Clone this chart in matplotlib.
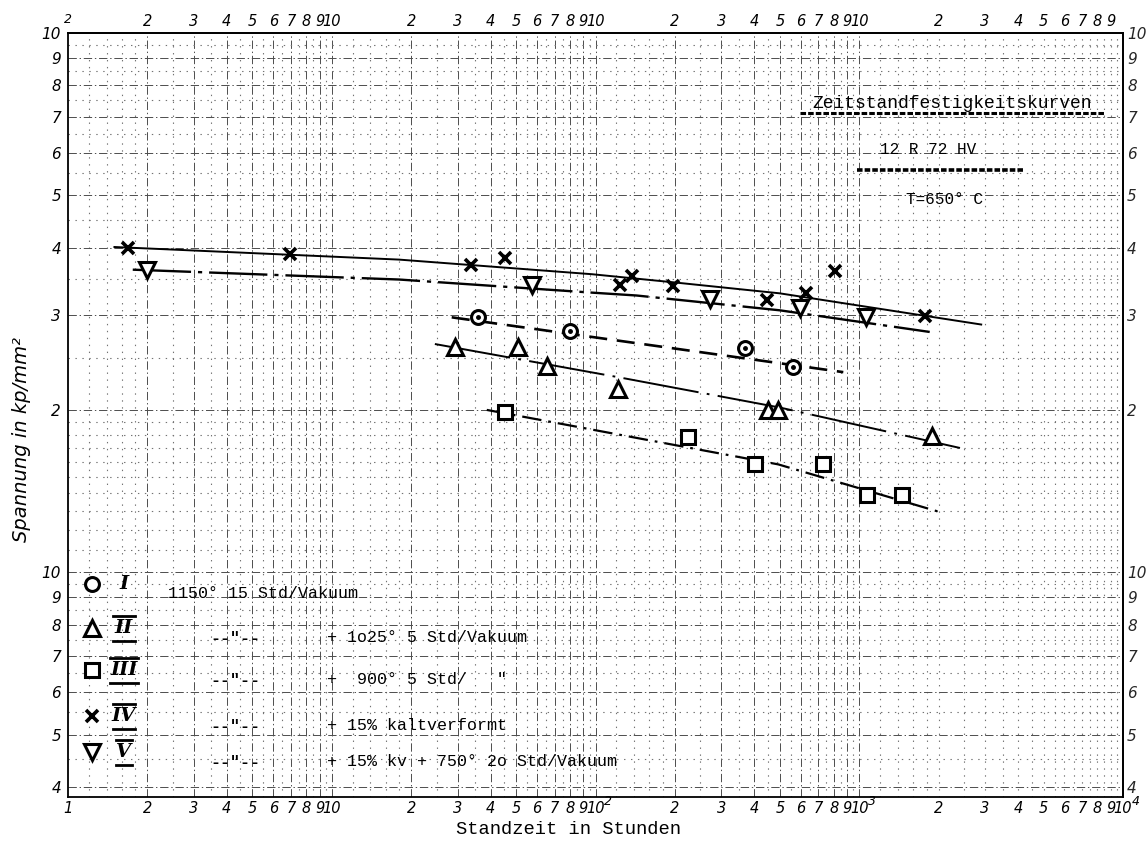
import matplotlib
matplotlib.use("Agg")
import matplotlib.pyplot as plt
from matplotlib.lines import Line2D

plt.rcParams['lines.scale_dashes'] = False
plt.rcParams['font.family'] = ['DejaVu Sans']

# ---------------- data ----------------
# Series I  (circle)   1150° 15 Std/Vakuum
I_x = [36, 80, 369, 562]
I_y = [29.7, 28.0, 26.0, 24.0]
I_fit_x = [28.5, 870]
I_fit_y = [29.7, 23.5]

# Series II (triangle up)
II_x = [29.3, 51, 65.3, 122, 451, 492, 1883]
II_y = [26.2, 26.2, 24.1, 21.9, 20.0, 20.0, 17.9]
II_fit_x = [24.6, 122, 501, 2410]
II_fit_y = [26.5, 23.0, 20.2, 17.0]

# Series III (square)
III_x = [45.4, 225, 402, 727, 1073, 1449]
III_y = [19.8, 17.8, 15.85, 15.85, 13.9, 13.9]
III_fit_x = [38.7, 493, 2055]
III_fit_y = [20.0, 15.85, 12.9]

# Series IV (cross)
IV_x = [1.69, 6.95, 33.6, 45.4, 124, 138, 196, 446, 629, 809, 1775]
IV_y = [40.0, 38.9, 37.1, 38.2, 34.1, 35.4, 34.0, 32.0, 33.0, 36.2, 29.9]
IV_fit_x = [1.5, 18, 97, 196, 500, 2900]
IV_fit_y = [40.1, 38.0, 35.7, 34.5, 32.9, 28.8]

# Series V (triangle down)
V_x = [2.0, 57.3, 272, 596, 1062]
V_y = [36.4, 34.1, 32.1, 30.9, 29.7]
V_fit_x = [1.76, 18, 97, 143, 500, 1850]
V_fit_y = [36.4, 34.9, 33.0, 32.6, 30.6, 27.9]

# tick labels
x_ticks = [k * 10 ** d for d in range(4) for k in range(1, 10)] + [10000]
x_bottom_labels = (['1'] + [str(k) for k in range(2, 10)] + ['10']
                   + [str(k) for k in range(2, 10)] + ['10']
                   + [str(k) for k in range(2, 10)] + ['10']
                   + [str(k) for k in range(2, 10)] + ['10'])
x_bottom_exponents = {100: '2', 1000: '3', 10000: '4'}
x_top_ticks = [k * 10 ** d for d in range(4) for k in range(2, 11) if k * 10 ** d <= 9000]
x_top_labels = ([str(k) for k in range(2, 10)] + ['10']) * 3 + [str(k) for k in range(2, 10)]
y_ticks = [4, 5, 6, 7, 8, 9, 10, 20, 30, 40, 50, 60, 70, 80, 90, 100]
y_left_labels = ['4', '5', '6', '7', '8', '9', '10', '2', '3', '4', '5', '6', '7', '8', '9', '10']
y_right_labels = ['4', '5', '6', '7', '8', '9', '10', '2', '3', '4', '5', '6', '7', '8', '9', '10']

legend_numerals = ['I', 'II', 'III', 'IV', 'V']
legend_texts = ['1150° 15 Std/Vakuum',
                '+ 1o25° 5 Std/Vakuum',
                '+  900° 5 Std/   "',
                '+ 15% kaltverformt',
                '+ 15% kv + 750° 2o Std/Vakuum']

# ---------------- figure ----------------
W, H = 1146, 844
fig = plt.figure(figsize=(W / 100, H / 100), dpi=100)
L, R, T, B = 68, 1123, 33, 797
ax = fig.add_axes([L / W, 1 - B / H, (R - L) / W, (B - T) / H])
ax.set_xscale('log')
ax.set_yscale('log')
ax.set_xlim(1, 1e4)
ax.set_ylim(3.83, 100)

def fx(px):
    return px / W

def fy(py):
    return 1 - py / H

# ---- log paper grid ----
major_style = dict(color='0.3', lw=0.7, dashes=(6, 2, 1, 2), zorder=1)
dot_style = dict(color='0.45', lw=0.8, dashes=(1, 4), zorder=1)
minor_steps = [1.2, 1.4, 1.6, 1.8, 2.5, 3.5, 4.5, 5.5, 6.5, 7.5, 8.5, 9.5]
for d in range(4):
    for k in range(2, 11):
        v = k * 10 ** d
        if v >= 10000:
            continue
        if d < 3 or k == 10:
            ax.axvline(v, **major_style)
        else:
            ax.axvline(v, **dot_style)
    for m in minor_steps:
        ax.axvline(m * 10 ** d, **dot_style)
for v in [4, 5, 6, 7, 8, 9, 10, 20, 30, 40, 50, 60, 70, 80, 90]:
    ax.axhline(v, **major_style)
for v in [4.5, 5.5, 6.5, 7.5, 8.5, 9.5, 11, 12, 13, 14, 15, 16, 17, 18, 19,
          25, 35, 45, 55, 65, 75, 85, 95]:
    ax.axhline(v, **dot_style)

# ---- fitted curves ----
ax.plot(IV_fit_x, IV_fit_y, color='black', lw=1.4, zorder=3)
ax.plot(V_fit_x, V_fit_y, color='black', lw=1.7, dashes=(42, 5, 3, 5), zorder=3)
ax.plot(I_fit_x, I_fit_y, color='black', lw=1.9, dashes=(13, 7), zorder=3)
ax.plot(II_fit_x, II_fit_y, color='black', lw=1.4, dashes=(55, 6, 2, 6), zorder=3)
ax.plot(III_fit_x, III_fit_y, color='black', lw=1.6, dashes=(14, 5, 2, 5), zorder=3)

# ---- data points ----
mk = dict(ls='none', mfc='white', mec='black', mew=2.2, zorder=5)
ax.plot(I_x, I_y, marker='o', ms=10, **mk)
ax.plot(I_x, I_y, ls='none', marker='o', ms=2.5, color='black', zorder=6)
ax.plot(II_x, II_y, marker='^', ms=11, **mk)
ax.plot(III_x, III_y, marker='s', ms=9.5, **mk)
ax.plot(IV_x, IV_y, ls='none', marker='x', ms=9, mew=2.6, color='black', zorder=5)
ax.plot(V_x, V_y, marker='v', ms=11, **mk)

# ---- ticks ----
tick_font = dict(style='italic', size=10.5)
ax.set_xticks(x_ticks)
ax.set_xticklabels(x_bottom_labels, **tick_font)
ax.set_xticks([], minor=True)
ax.set_yticks(y_ticks)
ax.set_yticklabels(y_left_labels, style='italic', size=11)
ax.set_yticks([], minor=True)
ax.tick_params(axis='x', length=0, pad=3)
ax.tick_params(axis='y', length=0, pad=5)

for xv, ex in x_bottom_exponents.items():
    ax.annotate(ex, xy=(xv, 0), xycoords=('data', 'axes fraction'),
                xytext=(6, -3), textcoords='offset points', style='italic',
                size=9, ha='left', va='center')
ax.annotate('2', xy=(0, 100), xycoords=('axes fraction', 'data'),
            xytext=(0, 10), textcoords='offset points', style='italic',
            size=9, ha='center', va='center')

sx = ax.secondary_xaxis('top')
sx.set_xticks(x_top_ticks)
sx.set_xticklabels(x_top_labels, **tick_font)
sx.set_xticks([], minor=True)
sx.tick_params(length=0, pad=3)

sy = ax.secondary_yaxis('right')
sy.set_yticks(y_ticks)
sy.set_yticklabels(y_right_labels, style='italic', size=11, color='0.15')
sy.set_yticks([], minor=True)
sy.tick_params(length=0, pad=3)

for s in ax.spines.values():
    s.set_linewidth(1.3)
for s in list(sx.spines.values()) + list(sy.spines.values()):
    s.set_linewidth(1.3)

# ---- axis titles ----
fig.text(fx(22), fy(440), 'Spannung in kp/mm²', rotation=90, style='italic',
         size=14, ha='center', va='center')
fig.text(fx(568), fy(830), 'Standzeit in Stunden', family='Liberation Mono',
         size=13.5, ha='center', va='center')

# ---- title block ----
mono = 'Liberation Mono'
fig.text(fx(952), fy(104), 'Zeitstandfestigkeitskurven', family=mono, size=13,
         ha='center', va='center')
fig.add_artist(Line2D([fx(800), fx(1105)], [fy(113), fy(113)], color='black',
                      lw=2.2, dashes=(4, 1.5)))
fig.text(fx(928), fy(150), '12 R 72 HV', family=mono, size=11.5,
         ha='center', va='center')
fig.add_artist(Line2D([fx(857), fx(1023)], [fy(170), fy(170)], color='black',
                      lw=2.6, dashes=(4, 1.5)))
fig.text(fx(945), fy(200), 'T=650° C', family=mono, size=11.5,
         ha='center', va='center')

# ---- legend ----
row_y = [584, 628, 670, 716, 752]
sym_x = 92
num_x = 124
fig.add_artist(Line2D([fx(sym_x)], [fy(row_y[0])], marker='o', ms=10, **mk))
fig.add_artist(Line2D([fx(sym_x)], [fy(row_y[0])], marker='o', ms=2.5, color='black', ls='none'))
fig.add_artist(Line2D([fx(sym_x)], [fy(row_y[1])], marker='^', ms=11, **mk))
fig.add_artist(Line2D([fx(sym_x)], [fy(row_y[2])], marker='s', ms=9.5, **mk))
fig.add_artist(Line2D([fx(sym_x)], [fy(row_y[3])], marker='x', ms=9, mew=2.6,
                      color='black', ls='none'))
fig.add_artist(Line2D([fx(sym_x)], [fy(row_y[4])], marker='v', ms=11, **mk))

for i, (num, txt) in enumerate(zip(legend_numerals, legend_texts)):
    y = row_y[i]
    fig.text(fx(num_x), fy(y), num, family='DejaVu Serif', style='italic',
             weight='bold', size=14, ha='center', va='center')
    if i > 0:
        w = 5 + 3 * len(num)
        for dy in (-12, 13):
            fig.add_artist(Line2D([fx(num_x - w), fx(num_x + w)],
                                  [fy(y + dy), fy(y + dy)], color='black', lw=2))
        fig.text(fx(235), fy(y + 10), '--"--', family=mono, size=12,
                 ha='center', va='center', weight='bold')
        fig.text(fx(327), fy(y + 10), txt, family=mono, size=12,
                 ha='left', va='center')
    else:
        fig.text(fx(168), fy(y + 10), txt, family=mono, size=12,
                 ha='left', va='center')

fig.savefig('out.png', dpi=100, facecolor='white')
